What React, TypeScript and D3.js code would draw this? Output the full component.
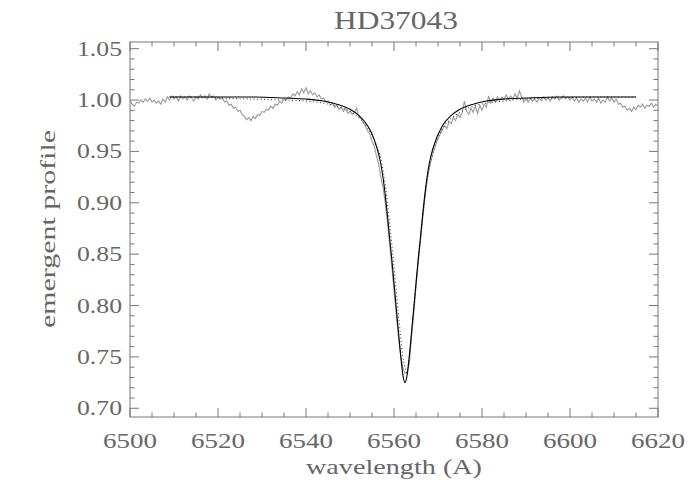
import React, { useEffect, useRef } from "react";
import * as d3 from "d3";

// observed spectrum, sampled every 0.5 A starting at 6500 A
const obsStart = 6500;
const obsStep = 0.5;
const observedFlux = [
  1.000, 0.996, 0.994, 0.998, 0.997, 1.000, 0.998, 1.001, 0.999, 1.002,
  0.998, 1.000, 0.997, 0.999, 0.996, 1.001, 0.998, 1.003, 1.000, 1.004,
  1.001, 1.003, 0.999, 1.004, 1.001, 1.003, 1.000, 1.004, 1.002, 0.999,
  1.003, 1.001, 1.005, 1.002, 1.004, 1.001, 1.006, 1.003, 1.004, 1.000,
  1.003, 1.001, 1.002, 0.998, 0.999, 0.995, 0.996, 0.992, 0.993, 0.989,
  0.990, 0.986, 0.984, 0.981, 0.983, 0.980, 0.984, 0.982, 0.986, 0.985,
  0.989, 0.988, 0.991, 0.990, 0.994, 0.992, 0.996, 0.995, 0.999, 0.997,
  1.001, 1.000, 1.003, 1.002, 1.006, 1.004, 1.008, 1.005, 1.011, 1.007,
  1.012, 1.006, 1.009, 1.005, 1.007, 1.003, 1.005, 1.001, 1.002, 0.998,
  0.999, 0.995, 0.997, 0.993, 0.995, 0.991, 0.993, 0.989, 0.992, 0.987,
  0.989, 0.986, 0.988, 0.992, 0.984, 0.982, 0.978, 0.975, 0.970, 0.967,
  0.960, 0.955, 0.946, 0.938, 0.925, 0.915, 0.900, 0.882, 0.860, 0.838,
  0.815, 0.792, 0.770, 0.752, 0.740, 0.734, 0.735, 0.745, 0.770, 0.794,
  0.818, 0.841, 0.862, 0.884, 0.903, 0.920, 0.933, 0.942, 0.950, 0.957,
  0.962, 0.967, 0.971, 0.975, 0.972, 0.979, 0.977, 0.983, 0.980, 0.986,
  0.983, 0.988, 0.999, 0.989, 0.986, 0.992, 0.988, 0.994, 0.987, 0.995,
  0.990, 0.996, 0.993, 1.004, 0.997, 1.002, 0.998, 1.003, 1.000, 1.003,
  1.001, 1.005, 1.001, 1.004, 1.001, 1.006, 1.002, 1.009, 1.003, 0.998,
  1.001, 0.998, 1.002, 0.999, 1.001, 0.998, 1.002, 0.999, 1.003, 1.000,
  1.002, 0.999, 1.003, 1.001, 1.004, 1.000, 1.002, 1.004, 1.001, 1.003,
  1.000, 1.003, 0.999, 1.002, 0.998, 1.001, 0.999, 1.002, 0.998, 1.003,
  0.999, 1.001, 0.998, 1.002, 0.997, 1.000, 0.998, 1.003, 0.999, 1.002,
  0.998, 1.001, 0.996, 0.997, 0.993, 0.994, 0.990, 0.992, 0.989, 0.993,
  0.991, 0.995, 0.993, 0.996, 0.992, 0.995, 0.994, 0.997, 0.993, 0.996,
  0.994,
];

// model profiles
const modelWave = [
  6509, 6515, 6520, 6527.5, 6535, 6540, 6544, 6547, 6550, 6552, 6554, 6555,
  6556, 6557, 6558, 6558.5, 6559, 6559.5, 6560, 6560.5, 6561, 6561.5, 6562,
  6562.5, 6563, 6563.5, 6564, 6564.5, 6565, 6565.5, 6566, 6566.5, 6567, 6568,
  6569, 6571, 6573, 6575, 6578, 6581, 6585, 6590, 6597.5, 6605, 6615,
];
const modelSolid = [
  1.003, 1.003, 1.003, 1.003, 1.002, 1.001, 0.999, 0.996, 0.991, 0.985, 0.975, 0.967,
  0.955, 0.938, 0.908, 0.888, 0.866, 0.845, 0.822, 0.798, 0.775, 0.752, 0.733,
  0.725, 0.733, 0.752, 0.775, 0.798, 0.822, 0.845, 0.866, 0.888, 0.908, 0.938,
  0.955, 0.975, 0.985, 0.991, 0.996, 0.999, 1.001, 1.002, 1.003, 1.003, 1.003,
];
const modelDotted = [
  1.003, 1.003, 1.002, 1.001, 1.000, 0.999, 0.997, 0.994, 0.989, 0.983, 0.973, 0.966,
  0.956, 0.943, 0.918, 0.900, 0.880, 0.860, 0.838, 0.815, 0.792, 0.770, 0.751,
  0.740, 0.734, 0.748, 0.772, 0.796, 0.820, 0.843, 0.864, 0.886, 0.906, 0.935,
  0.952, 0.972, 0.982, 0.988, 0.994, 0.997, 0.999, 1.001, 1.002, 1.003, 1.003,
];

const xLabels = [6500, 6520, 6540, 6560, 6580, 6600, 6620];
const yLabels = [0.7, 0.75, 0.8, 0.85, 0.9, 0.95, 1.0, 1.05];

const W = 700;
const H = 500;
const TEXT = "#666";
const AXIS = "#777";
const FONT = "'Liberation Serif', serif";

export default function App() {
  const ref = useRef<SVGSVGElement>(null);

  useEffect(() => {
    const svg = d3.select(ref.current);
    svg.selectAll("*").remove();

    const margin = { top: 42, right: 42, bottom: 83, left: 130 };
    const x = d3.scaleLinear().domain([6500, 6620]).range([margin.left, W - margin.right]);
    const y = d3.scaleLinear().domain([0.6915, 1.0565]).range([H - margin.bottom, margin.top]);
    const [x0, x1] = x.range();
    const [y0, y1] = y.range();

    const g = svg.append("g");

    // frame
    g.append("rect")
      .attr("x", x0).attr("y", y1)
      .attr("width", x1 - x0).attr("height", y0 - y1)
      .attr("fill", "none").attr("stroke", AXIS).attr("stroke-width", 1);

    // x ticks (bottom + top)
    const xMinor = d3.range(6500, 6621, 5);
    xMinor.forEach((v) => {
      const len = v % 20 === 0 ? 9 : 4.5;
      const px = x(v);
      g.append("line").attr("x1", px).attr("x2", px).attr("y1", y0).attr("y2", y0 - len).attr("stroke", AXIS);
      g.append("line").attr("x1", px).attr("x2", px).attr("y1", y1).attr("y2", y1 + len).attr("stroke", AXIS);
    });

    // y ticks (left + right)
    const yMinor = d3.range(70, 106, 1).map((d) => d / 100);
    yMinor.forEach((v, i) => {
      const len = i % 5 === 0 ? 9 : 4.5;
      const py = y(v);
      g.append("line").attr("x1", x0).attr("x2", x0 + len).attr("y1", py).attr("y2", py).attr("stroke", AXIS);
      g.append("line").attr("x1", x1).attr("x2", x1 - len).attr("y1", py).attr("y2", py).attr("stroke", AXIS);
    });

    // tick labels
    g.selectAll(".xl").data(xLabels).enter().append("text")
      .attr("x", (d) => x(d)).attr("y", y0 + 31)
      .attr("text-anchor", "middle")
      .attr("textLength", 54).attr("lengthAdjust", "spacingAndGlyphs")
      .attr("font-family", FONT).attr("font-size", 20).attr("fill", TEXT)
      .text((d) => d.toString());

    g.selectAll(".yl").data(yLabels).enter().append("text")
      .attr("x", x0 - 53).attr("y", (d) => y(d) + 7)
      .attr("textLength", 45).attr("lengthAdjust", "spacingAndGlyphs")
      .attr("font-family", FONT).attr("font-size", 20).attr("fill", TEXT)
      .text((d) => d.toFixed(2));

    // titles
    svg.append("text")
      .attr("x", 396).attr("y", 29)
      .attr("text-anchor", "middle")
      .attr("textLength", 124).attr("lengthAdjust", "spacingAndGlyphs")
      .attr("font-family", FONT).attr("font-size", 26).attr("fill", TEXT)
      .text("HD37043");

    svg.append("text")
      .attr("x", 394).attr("y", 474)
      .attr("text-anchor", "middle")
      .attr("textLength", 176).attr("lengthAdjust", "spacingAndGlyphs")
      .attr("font-family", FONT).attr("font-size", 21).attr("fill", TEXT)
      .text("wavelength (A)");

    svg.append("text")
      .attr("transform", `translate(55, 229) rotate(-90)`)
      .attr("text-anchor", "middle")
      .attr("textLength", 198).attr("lengthAdjust", "spacingAndGlyphs")
      .attr("font-family", FONT).attr("font-size", 21).attr("fill", TEXT)
      .text("emergent profile");

    // curves
    const clip = svg.append("defs").append("clipPath").attr("id", "plotclip");
    clip.append("rect").attr("x", x0).attr("y", y1).attr("width", x1 - x0).attr("height", y0 - y1);

    const line = d3.line<[number, number]>()
      .x((d) => x(d[0]))
      .y((d) => y(d[1]));

    const obsPts: [number, number][] = observedFlux.map((v, i) => [obsStart + i * obsStep, v]);
    const solidPts: [number, number][] = modelWave.map((w, i) => [w, modelSolid[i]]);
    const dotPts: [number, number][] = modelWave.map((w, i) => [w, modelDotted[i]]);

    const plot = g.append("g").attr("clip-path", "url(#plotclip)");

    plot.append("path")
      .attr("d", line(obsPts))
      .attr("fill", "none").attr("stroke", "#999").attr("stroke-width", 1.1);

    plot.append("path")
      .attr("d", line.curve(d3.curveMonotoneX)(dotPts))
      .attr("fill", "none").attr("stroke", "#444").attr("stroke-width", 1.1)
      .attr("stroke-dasharray", "1,2.5");

    plot.append("path")
      .attr("d", line.curve(d3.curveMonotoneX)(solidPts))
      .attr("fill", "none").attr("stroke", "#000").attr("stroke-width", 1.1);
  }, []);

  return (
    <svg
      ref={ref}
      width={W}
      height={H}
      style={{ position: "absolute", left: 0, top: 0, background: "#fff" }}
    />
  );
}
